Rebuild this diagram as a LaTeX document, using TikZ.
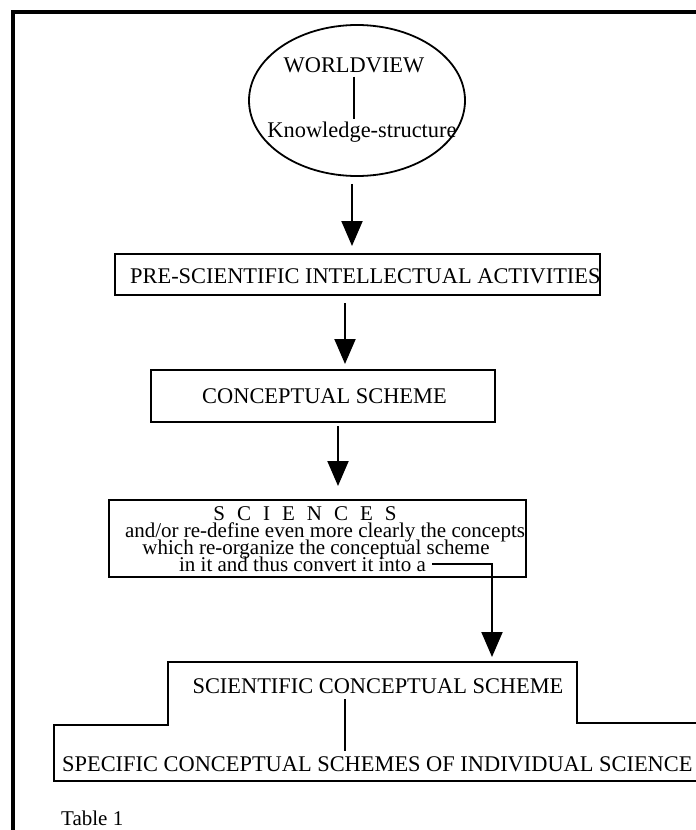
\documentclass[tikz,border=0pt]{standalone}
\usepackage{fontspec}
\setmainfont{Liberation Serif}
\usetikzlibrary{arrows.meta,shapes.geometric,calc}
\begin{document}
\begin{tikzpicture}[x=1pt,y=-1pt,
  lbl/.style={inner sep=0pt, font=\fontsize{22.4}{24}\selectfont},
  small/.style={inner sep=0pt, font=\fontsize{21}{17}\selectfont},
  boxed/.style={draw, line width=2pt, inner sep=0pt},
  conn/.style={line width=2pt},
  thin/.style={line width=1.5pt},
  arr/.style={line width=2pt, -{Triangle[width=21pt,length=25pt]}},
]
\useasboundingbox (0,0) rectangle (696,830);
\clip (0,0) rectangle (696,830);
\fill[white] (0,0) rectangle (696,830);
% outer frame
\draw[line width=4pt] (13,840) -- (13,12) -- (710,12);

% worldview ellipse
\node[ellipse, draw, line width=1.8pt, minimum width=216pt, minimum height=151pt, inner sep=0pt] (ell) at (357,100.5) {};
\node[lbl, anchor=base] (wv) at (354,72) {WORLDVIEW};
\node[lbl, anchor=base] (ks) at (362,137) {Knowledge-structure};
\draw[thin, shorten <=4pt, shorten >=2pt] (wv.south) -- (wv.south |- ks.north);

% pre-scientific
\node[boxed, minimum width=485pt, minimum height=41pt] (pre) at (357.5,274.5) {};
\node[lbl, anchor=base west] (pret) at (130,283) {PRE-SCIENTIFIC INTELLECTUAL ACTIVITIES};
\draw[arr] ($(ell.south)+(-5,7)$) -- ($(pre.north)+(-5.5,-7)$);

% conceptual scheme
\node[boxed, minimum width=344pt, minimum height=52pt] (cs) at (323,396) {};
\node[lbl, anchor=base] (cst) at (324.5,403) {CONCEPTUAL SCHEME};
\draw[arr] ($(pre.south)+(-12.5,7)$) -- ($(cs.north)+(22,-5)$);

% sciences
\node[boxed, minimum width=417pt, minimum height=77pt] (scib) at (317.5,538.5) {};
\node[small, anchor=base] (s1) at (305,520) {{\spaceskip=12pt S C I E N C E S}};
\node[small, anchor=base] (s2) at (325,537) {and/or re-define even more clearly the concepts};
\node[small, anchor=base] (s3) at (316,554) {which re-organize the conceptual scheme};
\node[small, anchor=base] (s4) at (302.5,571) {in it and thus convert it into a};
\draw[arr] ($(cs.south)+(15,3)$) -- ($(scib.north)+(20.5,-13)$);

% stepped box
\draw[conn] (710,723) -- (577,723) -- (577,662) -- (168,662) -- (168,725) -- (54,725) -- (54,781) -- (710,781);
\coordinate (a4end) at (492,657);
\draw[arr] ([xshift=6pt]s4.east) -| (a4end);
\node[lbl, anchor=base] (sct) at (378,693) {SCIENTIFIC CONCEPTUAL SCHEME};
\node[lbl, anchor=base west] (spt) at (62,771) {SPECIFIC CONCEPTUAL SCHEMES OF INDIVIDUAL SCIENCE};
\coordinate (vx) at ($(sct.south)+(-33,0)$);
\draw[thin, shorten <=6pt, shorten >=5pt] (vx) -- (vx |- spt.north);

\node[inner sep=0pt, font=\fontsize{21}{24}\selectfont, anchor=base west] (tab) at (61,825) {Table 1};
\end{tikzpicture}
\end{document}
